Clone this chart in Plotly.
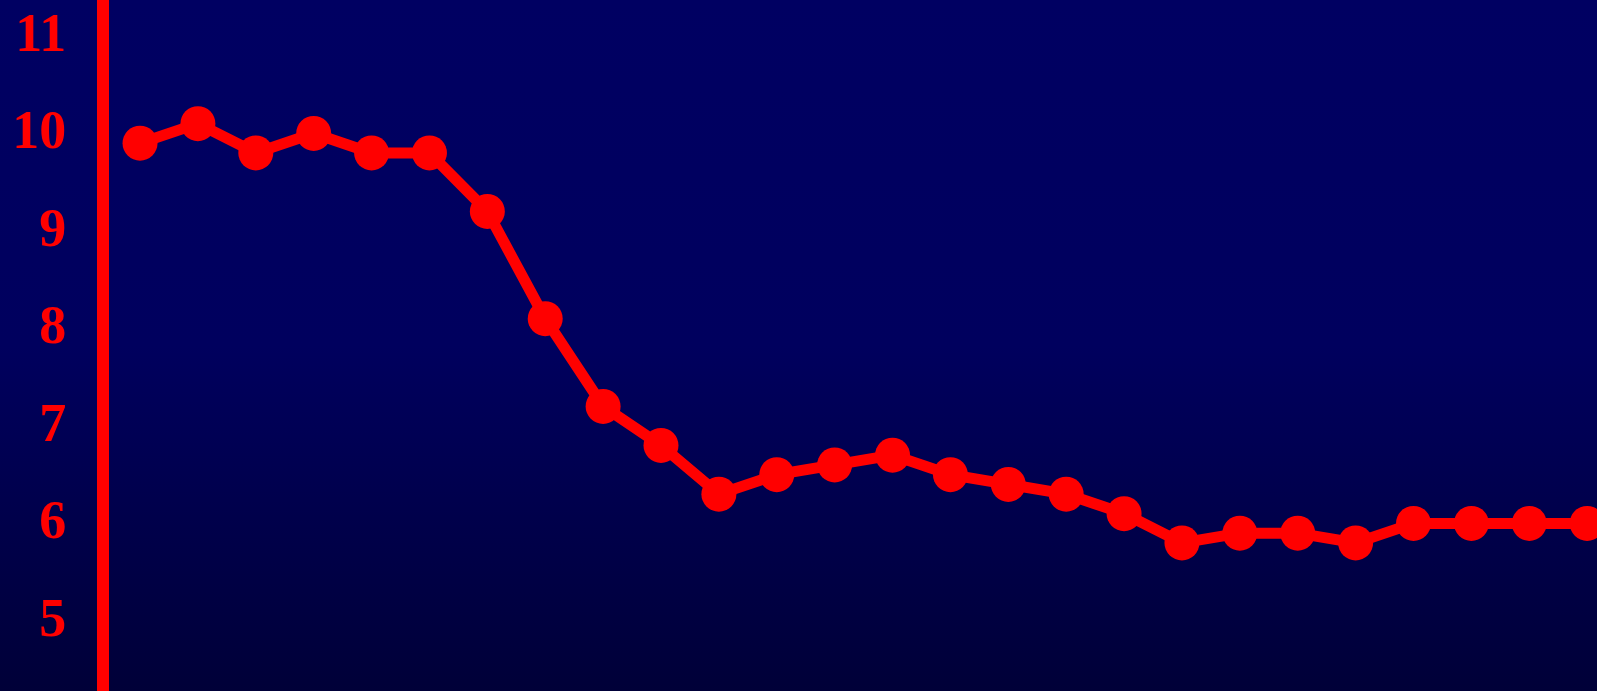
import base64
import plotly.graph_objects as go

# Series values, one per period
periods = list(range(26))
values = [9.9, 10.1, 9.8, 10.0, 9.8, 9.8, 9.2, 8.1, 7.2, 6.8, 6.3, 6.5, 6.6,
          6.7, 6.5, 6.4, 6.3, 6.1, 5.8, 5.9, 5.9, 5.8, 6.0, 6.0, 6.0, 6.0]
y_ticks = [5, 6, 7, 8, 9, 10, 11]

RED = "#ff0000"

# Vertical navy gradient used as the page/plot backdrop
gradient_svg = (
    '<svg xmlns="http://www.w3.org/2000/svg" width="10" height="100" preserveAspectRatio="none">'
    '<defs><linearGradient id="g" x1="0" y1="0" x2="0" y2="1">'
    '<stop offset="0" stop-color="#000062"/>'
    '<stop offset="0.5" stop-color="#00005e"/>'
    '<stop offset="1" stop-color="#000038"/>'
    '</linearGradient></defs>'
    '<rect width="10" height="100" fill="url(#g)"/></svg>'
)
gradient_uri = "data:image/svg+xml;base64," + base64.b64encode(gradient_svg.encode()).decode()

fig = go.Figure()
fig.add_trace(go.Scatter(
    x=periods,
    y=values,
    mode="lines+markers",
    line=dict(color=RED, width=11),
    marker=dict(color=RED, size=35),
    cliponaxis=True,
    showlegend=False,
    hoverinfo="skip",
))

fig.update_layout(
    width=1597,
    height=691,
    margin=dict(l=109, r=0, t=0, b=0),
    paper_bgcolor="#00005c",
    plot_bgcolor="rgba(0,0,0,0)",
    images=[dict(
        source=gradient_uri,
        xref="paper", yref="paper",
        x=-0.08, y=1, sizex=1.08, sizey=1,
        xanchor="left", yanchor="top",
        sizing="stretch",
        layer="below",
    )],
    xaxis=dict(
        range=[-0.536, 25.17],
        showgrid=False,
        zeroline=False,
        showticklabels=False,
        showline=False,
    ),
    yaxis=dict(
        range=[4.281, 11.368],
        tickvals=y_ticks,
        ticktext=[str(v) for v in y_ticks],
        showgrid=False,
        zeroline=False,
        showline=True,
        linecolor=RED,
        linewidth=12,
        ticks="",
        ticklabelstandoff=20,
        ticklabelshift=-4,
        tickfont=dict(family="Liberation Serif", size=54, color=RED, weight="bold"),
    ),
)

fig.write_html("out.html")
